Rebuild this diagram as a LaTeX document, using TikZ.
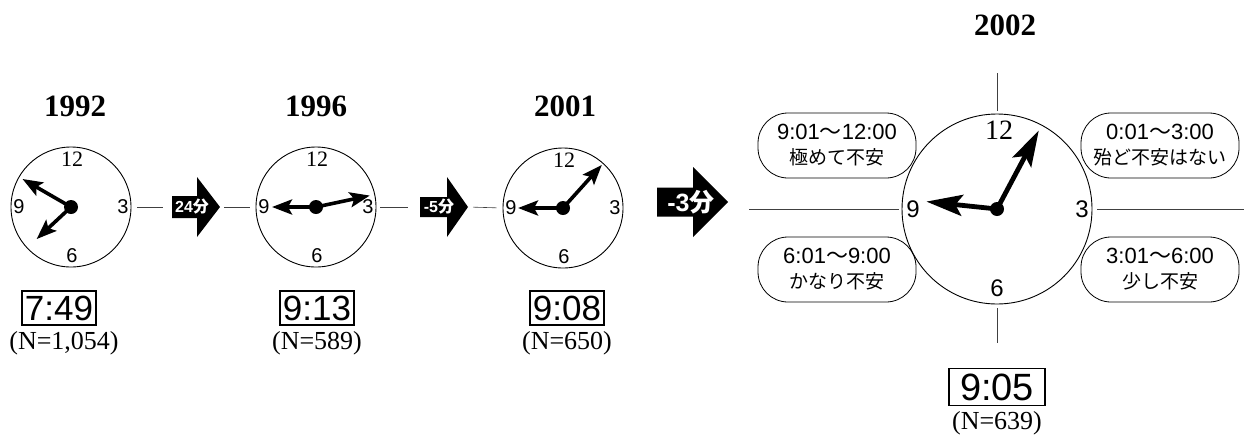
\documentclass[tikz,border=0pt]{standalone}
\usepackage{fontspec}
\setmainfont{Liberation Serif}
\setsansfont{Liberation Sans}
\newfontfamily\cjk{Noto Sans CJK JP}
\usetikzlibrary{arrows.meta, positioning, calc}

\newcommand{\fsz}[1]{\fontsize{#1}{#1}\selectfont}

\begin{document}
\begin{tikzpicture}[
    x=1pt, y=1pt,
    clockFace/.style={circle, draw, line width=0.9pt, minimum size=120pt, inner sep=0pt},
    bigFace/.style={circle, draw, line width=0.9pt, minimum size=190pt, inner sep=0pt},
    hubDot/.style={circle, fill, minimum size=14pt, inner sep=0pt},
    hand/.style={line width=3.6pt, -{Stealth[length=20pt, width=15pt, inset=4pt]}},
    bigHand/.style={line width=4.8pt, -{Stealth[length=36pt, width=21pt, inset=7pt]}},
    numSerif/.style={font=\fsz{22}, inner sep=0pt},
    numSans/.style={font=\sffamily\fsz{20}, inner sep=0pt},
    yearLbl/.style={font=\bfseries\fsz{31}},
    timeBox/.style={draw, line width=1.8pt, font=\sffamily\fsz{35}, inner xsep=3pt, inner ysep=5pt},
    nLbl/.style={font=\fsz{26}, inner sep=0pt},
    arrText/.style={text=white, font=\sffamily\bfseries\fsz{16}, inner sep=0pt},
    link/.style={draw=black!75, line width=0.6pt},
    pill/.style={draw, line width=0.8pt, rounded corners=30pt, minimum width=158pt,
        minimum height=65pt, align=center, font=\sffamily\fontsize{22}{25}\selectfont}
]
\useasboundingbox (0,0) rectangle (1246,-445);

% clock faces
\node[clockFace] (c1) at (71,-207) {};
\node[clockFace] (c2) at (316,-207) {};
\node[clockFace] (c3) at (563,-208) {};
\node[bigFace] (c4) at (997,-209) {};

\foreach \c in {c1,c2,c3} {
    \node[numSerif] at ($(\c)+(1,48)$) {12};
    \node[numSans] at ($(\c)+(-52,0)$) {9};
    \node[numSans] at ($(\c)+(52,0)$) {3};
    \node[numSans] at ($(\c)+(1,-49)$) {6};
}
\node[numSerif, font=\fsz{28}] at ($(c4)+(2,79)$) {12};
\node[numSans, font=\sffamily\fsz{24}] at ($(c4)+(-84,0)$) {9};
\node[numSans, font=\sffamily\fsz{24}] at ($(c4)+(85,0)$) {3};
\node[numSans, font=\sffamily\fsz{24}] at ($(c4)+(0,-79)$) {6};

% hands
\draw[hand] (c1.center) -- ++(-137:47);
\draw[hand] (c1.center) -- ++(150:56);
\draw[hand] (c2.center) -- ++(180:44);
\draw[hand] (c2.center) -- ++(12:55);
\draw[hand] (c3.center) -- ++(180:45);
\draw[hand] (c3.center) -- ++(48:58);
\draw[bigHand] (c4.center) -- ++(174:71);
\draw[bigHand] (c4.center) -- ++(62:89);
\foreach \c in {c1,c2,c3,c4}
    \node[hubDot] (hub\c) at (\c) {};

% years
\node[yearLbl] (y1) at (75,-106) {1992};
\node[yearLbl] (y2) at (316,-106) {1996};
\node[yearLbl] (y3) at (565,-106) {2001};
\node[yearLbl] (y4) at (1005,-25) {2002};

% step arrows
\coordinate (a1) at (172,-207);
\coordinate (a1tip) at (220,-207);
\fill (a1) ++(0,11) -- ++(25,0) -- ++(0,19) -- (a1tip) -- ++(-23,-30) -- ++(0,19) -- ++(-25,0) -- cycle;
\node[arrText] (a1txt) at (192,-207) {24{\cjk 分}};

\coordinate (a2) at (420,-207);
\coordinate (a2tip) at (468,-207);
\fill (a2) ++(0,10) -- ++(27,0) -- ++(0,20) -- (a2tip) -- ++(-21,-30) -- ++(0,20) -- ++(-27,0) -- cycle;
\node[arrText] (a2txt) at (439,-207) {-5{\cjk 分}};

\coordinate (a3) at (657,-202);
\coordinate (a3tip) at (728,-202);
\fill (a3) ++(0,14.5) -- ++(36,0) -- ++(0,20.5) -- (a3tip) -- ++(-35,-35) -- ++(0,20.5) -- ++(-36,0) -- cycle;
\node[arrText, font=\sffamily\bfseries\fsz{25}] (a3txt) at (691,-202) {-3{\cjk 分}};

\draw[link, shorten <=6pt, shorten >=9pt] (c1.east) -- (a1);
\draw[link, shorten <=4pt, shorten >=6pt] (a1tip) -- (c2.west);
\draw[link, shorten <=4pt, shorten >=12pt] (c2.east) -- (a2);
\draw[link, shorten <=5pt, shorten >=6pt] (a2tip) -- (c3.west);

% axes of the last clock
\draw[link] ([xshift=-3pt]c4.west) -- ++(-150,0);
\draw[link] ([xshift=5pt]c4.east) -- ++(147,0);
\draw[link] ([yshift=3pt]c4.north) -- ++(0,38);
\draw[link] ([yshift=-4pt]c4.south) -- ++(0,-35);

% anxiety ranges
\node[pill] (p1) at (837,-145.5) {9:01{\cjk ～}12:00\\{\cjk\fontsize{19}{25}\selectfont 極めて不安}};
\node[pill] (p2) at (1160,-145.5) {0:01{\cjk ～}3:00\\{\cjk\fontsize{19}{25}\selectfont 殆ど不安はない}};
\node[pill] (p3) at (837,-269.5) {6:01{\cjk ～}9:00\\{\cjk\fontsize{19}{25}\selectfont かなり不安}};
\node[pill] (p4) at (1160,-269.5) {3:01{\cjk ～}6:00\\{\cjk\fontsize{19}{25}\selectfont 少し不安}};

% results
\node[timeBox] (t1) at (59,-308) {7:49};
\node[timeBox] (t2) at (317,-308) {9:13};
\node[timeBox] (t3) at (567,-308) {9:08};
\node[timeBox, font=\sffamily\fsz{38}, inner xsep=11pt] (t4) at (997,-387) {9:05};
\node[nLbl, below=5pt of t1, xshift=5pt] (n1) {(N=1,054)};
\node[nLbl, below=5pt of t2] (n2) {(N=589)};
\node[nLbl, below=5pt of t3] (n3) {(N=650)};
\node[nLbl, below=5pt of t4] (n4) {(N=639)};

\end{tikzpicture}
\end{document}
